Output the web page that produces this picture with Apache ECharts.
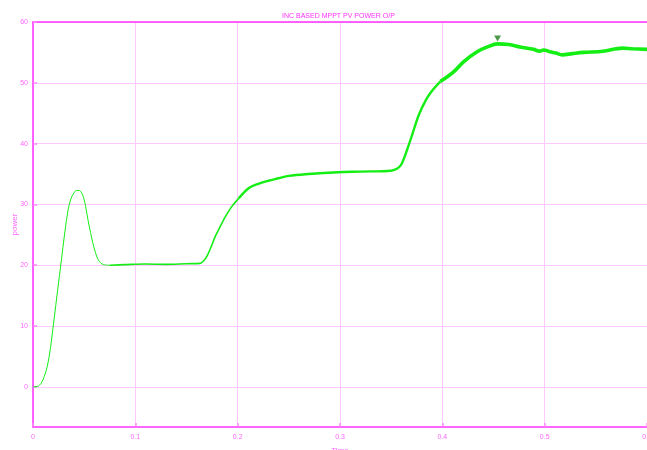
<!DOCTYPE html>
<html><head><meta charset="utf-8">
<script src="https://cdn.jsdelivr.net/npm/echarts@6/dist/echarts.min.js"></script>
<style>html,body{margin:0;padding:0;background:#fff}#c{width:647px;height:450px}</style>
</head><body><div id="c"></div>
<script>
const titleText = 'INC BASED MPPT PV POWER O/P';
const xName = 'Time';
const yName = 'power';
const yTicks = [0, 10, 20, 30, 40, 50, 60];

const time = [0,0.004,0.008,0.011,0.014,0.017,0.0205,0.024,0.0275,0.031,0.0343,0.037,0.04,0.0425,0.045,0.0475,0.0495,0.0515,0.0537,0.0562,0.0586,0.061,0.0634,0.066,0.069,0.075,0.09,0.11,0.13,0.15,0.163,0.169,0.174,0.178,0.183,0.188,0.194,0.201,0.211,0.22,0.23,0.24,0.25,0.269,0.298,0.32,0.35,0.356,0.36,0.366,0.371,0.377,0.384,0.39,0.398,0.411,0.421,0.434,0.444,0.454,0.465,0.476,0.489,0.495,0.499,0.505,0.511,0.517,0.527,0.538,0.557,0.576,0.586,0.6];
const power = [0,0.05,0.6,1.7,3.4,6.3,11.0,15.8,20.5,25.3,29.1,30.9,31.9,32.3,32.3,31.9,31.1,29.6,27.5,25.4,23.6,22.1,21.0,20.4,20.1,20.0,20.1,20.2,20.15,20.25,20.3,21.2,23.0,24.7,26.4,28.0,29.6,31.0,32.7,33.4,33.9,34.3,34.7,35.0,35.3,35.4,35.55,35.9,36.6,39.2,41.7,44.7,47.2,48.7,50.2,51.8,53.5,55.1,55.9,56.4,56.3,55.9,55.5,55.2,55.4,55.1,54.9,54.6,54.8,55.0,55.2,55.7,55.6,55.5];
const markerTime = [0.454];
const markerPower = [57.3];

// segment split indices (line gets thicker over time)
const segEnds = [25, 37, 54, time.length - 1];
const segWidths = [1, 1.6, 2.4, 3.6];

const lineColor = '#14ee14';
const magenta = '#ff33ff';
const labelColor = '#ff66ff';
const gridColor = '#ffc8ff';
const font = 'Liberation Sans';

const series = [];
let start = 0;
segEnds.forEach((end, i) => {
  const d = [];
  for (let k = start; k <= end; k++) d.push([time[k], power[k]]);
  series.push({
    type: 'line', data: d, showSymbol: false, smooth: 0.35,
    lineStyle: {color: lineColor, width: segWidths[i]}, z: 3,
    animation: false, silent: true
  });
  start = end;
});
series.push({
  type: 'scatter',
  data: markerTime.map((t, i) => [t, markerPower[i]]),
  symbol: 'triangle', symbolRotate: 180, symbolSize: [7, 6],
  itemStyle: {color: '#1f7f1f'}, z: 5, animation: false, silent: true
});

const chart = echarts.init(document.getElementById('c'), null, {renderer: 'canvas'});
chart.setOption({
  backgroundColor: '#ffffff',
  animation: false,
  title: {
    text: titleText, left: 277, top: 8,
    textStyle: {color: magenta, fontSize: 7, fontWeight: 'normal', fontFamily: font}
  },
  grid: {left: 33, right: 0, top: 22, bottom: 23, containLabel: false, outerBoundsMode: 'none'},
  xAxis: [{
    type: 'value', min: 0, max: 0.6, interval: 0.1,
    name: xName, nameLocation: 'middle', nameGap: 20, nameMoveOverlap: false,
    nameTextStyle: {color: labelColor, fontSize: 8, fontFamily: font},
    axisLine: {show: true, onZero: false, lineStyle: {color: magenta, width: 1.5}},
    axisTick: {show: true, inside: true, length: 4, lineStyle: {color: '#ff88ff', width: 1.5}},
    axisLabel: {color: labelColor, fontSize: 7, fontFamily: font, margin: 7,
      formatter: v => (Math.round(v * 10) / 10).toString()},
    splitLine: {show: true, lineStyle: {color: gridColor, width: 1}}
  }, {
    type: 'value', min: 0, max: 0.6, position: 'top',
    axisLine: {show: true, onZero: false, lineStyle: {color: magenta, width: 1.5}},
    axisTick: {show: false}, axisLabel: {show: false}, splitLine: {show: false}
  }],
  yAxis: {
    type: 'value', min: -6.6, max: 60,
    name: yName, nameLocation: 'middle', nameGap: 14, nameRotate: 90, nameMoveOverlap: false,
    nameTextStyle: {color: labelColor, fontSize: 8, fontFamily: font},
    axisLine: {show: true, onZero: false, lineStyle: {color: magenta, width: 1.5}},
    axisTick: {show: true, inside: true, length: 4, customValues: yTicks, lineStyle: {color: '#ff88ff', width: 1.5}},
    axisLabel: {color: labelColor, fontSize: 7, fontFamily: font, margin: 5, customValues: yTicks},
    splitLine: {show: true, lineStyle: {color: gridColor, width: 1}}
  },
  series: series
});
</script></body></html>
